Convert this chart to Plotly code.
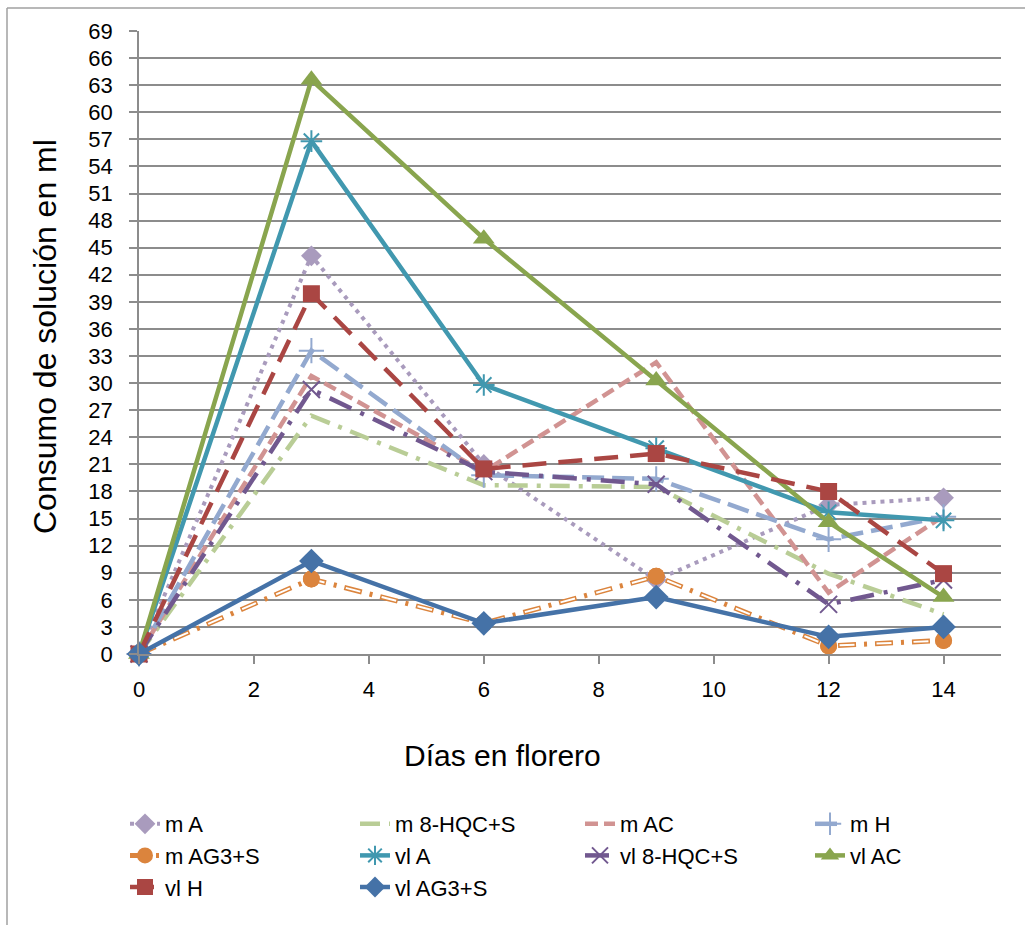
import plotly.graph_objects as go

days = [0, 3, 6, 9, 12, 14]

m_A = [0, 44.1, 21.0, 8.2, 16.5, 17.3]
m_8HQC_S = [0, 26.4, 18.7, 18.5, 8.9, 4.4]
m_AC = [0, 30.8, 20.2, 32.3, 6.8, 15.3]
m_H = [0, 33.6, 19.8, 19.4, 12.7, 15.2]
m_AG3_S = [0, 8.3, 3.4, 8.6, 0.9, 1.5]
vl_A = [0, 56.8, 29.8, 22.8, 15.7, 14.8]
vl_8HQC_S = [0, 29.3, 20.2, 18.8, 5.5, 8.2]
vl_AC = [0, 63.6, 46.0, 30.3, 14.6, 6.3]
vl_H = [0, 39.9, 20.5, 22.2, 18.0, 8.9]
vl_AG3_S = [0, 10.3, 3.4, 6.3, 1.9, 3.0]

y_ticks = list(range(0, 70, 3))
x_ticks = [0, 2, 4, 6, 8, 10, 12, 14]

FONT = "Liberation Sans, Arial, sans-serif"
GRID = "#8c8c8c"

fig = go.Figure()

def add(name, y, color, dash, width, legend, symbol=None, msize=0, mline=None):
    marker = dict(color=color, size=msize, symbol=symbol) if symbol else None
    if symbol and mline:
        marker["line"] = dict(color=color, width=mline)
    fig.add_trace(go.Scatter(
        x=days, y=y, name=name,
        mode="lines+markers" if symbol else "lines",
        line=dict(color=color, width=width, dash=dash),
        marker=marker, cliponaxis=False, legend=legend,
    ))

add("m A", m_A, "#A99BBD", "4px,5px", 4, "legend", "diamond", 16)
add("m 8-HQC+S", m_8HQC_S, "#B9CD96", "20px,9px,4px,9px", 4.5, "legend2")
add("m AC", m_AC, "#D19392", "13px,6px", 4.5, "legend3")
add("m H", m_H, "#93A9CF", "22px,8px", 4.5, "legend4", "cross-thin-open", 18, 2)
# m AG3+S : hollow dash-dot line
add("m AG3+S", m_AG3_S, "#DB843D", "18px,8px,3px,8px", 5, "legend", "circle", 17)
fig.add_trace(go.Scatter(x=days, y=m_AG3_S, mode="lines", showlegend=False, hoverinfo="skip",
                         line=dict(color="white", width=2, dash="0px,1.5px,15px,20.5px"),
                         cliponaxis=False))
fig.add_trace(go.Scatter(x=days, y=m_AG3_S, mode="markers", showlegend=False, hoverinfo="skip",
                         marker=dict(color="#DB843D", size=17, symbol="circle"),
                         cliponaxis=False))
add("vl A", vl_A, "#4198AF", "solid", 4.5, "legend2", "asterisk-open", 18, 2)
add("vl 8-HQC+S", vl_8HQC_S, "#71588F", "24px,10px,4px,10px", 4.5, "legend3", "x-thin-open", 17, 2)
add("vl AC", vl_AC, "#89A54E", "solid", 4.5, "legend4", "triangle-up", 19)
add("vl H", vl_H, "#AA4643", "24px,12px", 4.5, "legend", "square", 17)
add("vl AG3+S", vl_AG3_S, "#4572A7", "solid", 4.5, "legend2", "diamond", 19)

L, R, T, B = 139, 24, 31, 271
W, H = 1025, 925
pw, ph = W - L - R, H - T - B

def px(xp):
    return (xp - L) / pw

def py(yp):
    return (H - B - yp) / ph

def leg(xpix):
    return dict(orientation="v", x=px(xpix), y=py(803), xanchor="left", yanchor="top",
                font=dict(size=22, family=FONT), bgcolor="rgba(0,0,0,0)",
                traceorder="normal", tracegroupgap=0)

fig.update_layout(
    width=W, height=H,
    margin=dict(l=L, r=R, t=T, b=B, autoexpand=False),
    paper_bgcolor="white", plot_bgcolor="white",
    font=dict(family=FONT, size=22, color="black"),
    xaxis=dict(range=[0, 15], tickvals=x_ticks, ticktext=[str(v) for v in x_ticks],
               showgrid=False, zeroline=False, showline=True, linecolor=GRID, linewidth=1.5,
               ticks="outside", ticklen=8, tickcolor=GRID, tickwidth=1.5,
               ticklabelstandoff=7, tickfont=dict(size=22, family=FONT)),
    yaxis=dict(range=[0, 69], tickvals=y_ticks, ticktext=[str(v) for v in y_ticks],
               showgrid=True, gridcolor=GRID, gridwidth=1.5, zeroline=False,
               showline=True, linecolor=GRID, linewidth=1.5,
               ticks="outside", ticklen=8, tickcolor=GRID, tickwidth=1.5,
               ticklabelstandoff=12, tickfont=dict(size=22, family=FONT)),
    legend=leg(125), legend2=leg(355), legend3=leg(580), legend4=leg(810),
    showlegend=True,
)

fig.add_annotation(text="Consumo de solución en ml", xref="paper", yref="paper",
                   x=px(45), y=py(337), textangle=-90, showarrow=False,
                   font=dict(size=32, family=FONT), xanchor="center", yanchor="middle")
fig.add_annotation(text="Días en florero", xref="paper", yref="paper",
                   x=px(502), y=py(755), showarrow=False,
                   font=dict(size=30, family=FONT), xanchor="center", yanchor="middle")

# chart border
fig.add_shape(type="line", xref="paper", yref="paper", x0=px(7), x1=px(1030), y0=py(8), y1=py(8),
              line=dict(color="#a0a0a0", width=1.5))
fig.add_shape(type="line", xref="paper", yref="paper", x0=px(7), x1=px(7), y0=py(8), y1=py(930),
              line=dict(color="#a0a0a0", width=1.5))

fig.write_html("out.html")
